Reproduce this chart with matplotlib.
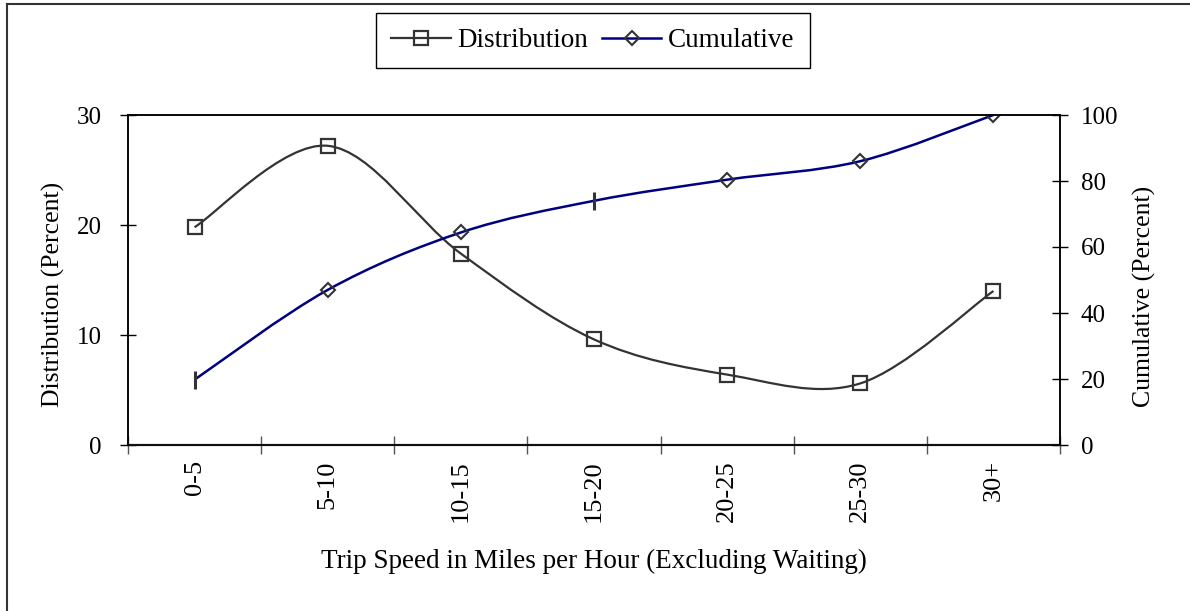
import numpy as np
import matplotlib
matplotlib.use("Agg")
import matplotlib.pyplot as plt
from matplotlib.path import Path
from matplotlib.patches import PathPatch
from matplotlib.lines import Line2D

plt.rcParams['font.family'] = ['Liberation Serif', 'DejaVu Serif']
plt.rcParams['font.size'] = 18

categories = ['0-5', '5-10', '10-15', '15-20', '20-25', '25-30', '30+']
distribution = [19.8, 27.2, 17.4, 9.6, 6.4, 5.6, 14.0]
cumulative = [19.8, 47.0, 64.4, 74.0, 80.4, 86.0, 100.0]

dist_color = '#333333'
cum_color = '#000080'


def smooth_path(x, y):
    # excel-style smoothed line: bezier segments through the data points
    pts = np.column_stack([x, y]).astype(float)
    n = len(pts)
    verts = [pts[0]]
    codes = [Path.MOVETO]
    for i in range(n - 1):
        p0 = pts[max(i - 1, 0)]
        p1 = pts[i]
        p2 = pts[i + 1]
        p3 = pts[min(i + 2, n - 1)]
        verts += [p1 + (p2 - p0) / 6, p2 - (p3 - p1) / 6, p2]
        codes += [Path.CURVE4] * 3
    return Path(verts, codes)


fig = plt.figure(figsize=(11.9, 6.11), dpi=100)
ax = fig.add_axes([128 / 1190, 1 - 445 / 611, 932 / 1190, 330 / 611])
ax2 = ax.twinx()

xpos = np.arange(len(categories))

ax.add_patch(PathPatch(smooth_path(xpos, distribution), fill=False,
                       edgecolor=dist_color, lw=1.6))
ax.plot(xpos, distribution, ls='none', marker='s', ms=9.5, mfc='none',
        mec=dist_color, mew=1.6)

ax2.add_patch(PathPatch(smooth_path(xpos, cumulative), fill=False,
                        edgecolor=cum_color, lw=1.8))
diamond_idx = [1, 2, 4, 5, 6]
bar_idx = [0, 3]
ax2.plot(xpos[diamond_idx], [cumulative[i] for i in diamond_idx], ls='none',
         marker='D', ms=7.5, mfc='none', mec=dist_color, mew=1.5)
ax2.plot(xpos[bar_idx], [cumulative[i] for i in bar_idx], ls='none',
         marker='|', ms=13, mec=dist_color, mew=2.2)

ax.set_xlim(-0.5, len(categories) - 0.5)
ax.set_ylim(0, 30)
ax2.set_ylim(0, 100)
ax.set_yticks([0, 10, 20, 30])
ax2.set_yticks([0, 20, 40, 60, 80, 100])

ax.set_xticks(xpos)
ax.set_xticklabels(categories, rotation=90, fontsize=19)
ax.set_xticks(np.arange(-0.5, len(categories), 1.0), minor=True)
ax.tick_params(axis='x', which='major', length=0, pad=11)
ax.tick_params(axis='x', which='minor', direction='inout', length=13,
               width=1, color='#555555')
ax.tick_params(axis='y', direction='inout', length=12, width=1, pad=13)
ax2.tick_params(axis='y', direction='inout', length=12, width=1, pad=9)

for a in (ax, ax2):
    for s in a.spines.values():
        s.set_color('black')
        s.set_linewidth(1.1)
ax.spines['bottom'].set_color('#444444')
ax.spines['bottom'].set_linewidth(1.6)

ax.set_ylabel('Distribution (Percent)', fontsize=18.5)
ax.yaxis.set_label_coords(-0.0676, 0.455)
ax2.set_ylabel('Cumulative (Percent)', fontsize=18.5)
ax2.yaxis.set_label_coords(1.0784, 0.45)
ax.set_xlabel('Trip Speed in Miles per Hour (Excluding Waiting)', fontsize=19.5)
ax.xaxis.set_label_coords(0.5, -0.315)

handles = [
    Line2D([], [], color=dist_color, lw=1.6, marker='s', ms=9.5, mfc='none',
           mec=dist_color, mew=1.6),
    Line2D([], [], color=cum_color, lw=1.8, marker='D', ms=7.5, mfc='none',
           mec=dist_color, mew=1.5),
]
leg = fig.legend(handles, ['Distribution', 'Cumulative'], loc='center',
                 bbox_to_anchor=(593 / 1190, 1 - 40.5 / 611), ncol=2,
                 fontsize=19.5, frameon=True, fancybox=False, framealpha=1,
                 edgecolor='black', handlelength=2.2, handletextpad=0.25,
                 columnspacing=0.5, borderpad=0.55)
leg.get_frame().set_linewidth(1.0)

# outer chart border (top and left edges visible)
fig.add_artist(Line2D([7 / 1190, 1], [1 - 4 / 611, 1 - 4 / 611],
                      transform=fig.transFigure, color='#333333', lw=1.5))
fig.add_artist(Line2D([7 / 1190, 7 / 1190], [0, 1 - 4 / 611],
                      transform=fig.transFigure, color='#333333', lw=1.5))

fig.savefig('out.png', dpi=100)
